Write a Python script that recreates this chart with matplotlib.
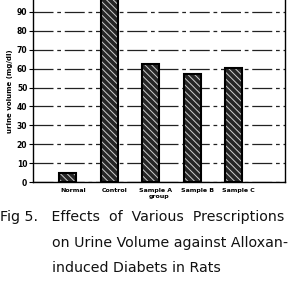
import matplotlib
matplotlib.use("Agg")
import matplotlib.pyplot as plt
import numpy as np

groups = ["Normal", "Control", "Sample A", "Sample B", "Sample C"]
urine_volume = [5, 100, 62.5, 57, 60.5]
yticks = [0, 10, 20, 30, 40, 50, 60, 70, 80, 90]

caption = ["Fig 5.   Effects  of  Various  Prescriptions",
           "on Urine Volume against Alloxan-",
           "induced Diabets in Rats"]

plt.rcParams["hatch.linewidth"] = 0.7

fig = plt.figure(figsize=(2.94, 2.85), dpi=100)
ax = fig.add_axes([0.112, 0.361, 0.857, 0.639])

x = np.arange(len(groups))
ax.bar(x, urine_volume, width=0.41, facecolor="#262626", edgecolor="#cfcfcf",
       hatch="\\\\\\\\\\", linewidth=0, zorder=3)
ax.bar(x, urine_volume, width=0.41, fill=False, edgecolor="black",
       linewidth=1.5, zorder=4)

ax.set_xlim(-0.84, 5.23)
ax.set_ylim(0, 96.3)
ax.set_yticks(yticks)
ax.set_yticklabels([str(v) for v in yticks], fontsize=5.5, fontweight="bold")
ax.set_xticks(x + 0.12)
ax.set_xticklabels(groups, fontsize=4.5, fontweight="bold")
ax.tick_params(axis="x", length=0, pad=4)
ax.tick_params(axis="y", length=3, width=0.8, pad=1)
ax.yaxis.grid(True, color="#222222", linewidth=0.9, linestyle=(0, (16, 3, 3, 3)))
ax.set_axisbelow(True)

ax.spines["top"].set_visible(False)
for side in ["left", "right", "bottom"]:
    ax.spines[side].set_linewidth(1.0)

ax.set_ylabel("urine volume (mg/dl)", fontsize=5, fontweight="bold", labelpad=3)
ax.set_xlabel("group", fontsize=4.5, fontweight="bold", labelpad=1)

fig.text(0, 285 - 221, caption[0], fontsize=10.2, transform=None,
         ha="left", va="baseline", color="#111111")
fig.text(52, 285 - 247, caption[1], fontsize=10.2, transform=None,
         ha="left", va="baseline", color="#111111")
fig.text(52, 285 - 272, caption[2], fontsize=10.2, transform=None,
         ha="left", va="baseline", color="#111111")

fig.savefig("out.png", dpi=100)
